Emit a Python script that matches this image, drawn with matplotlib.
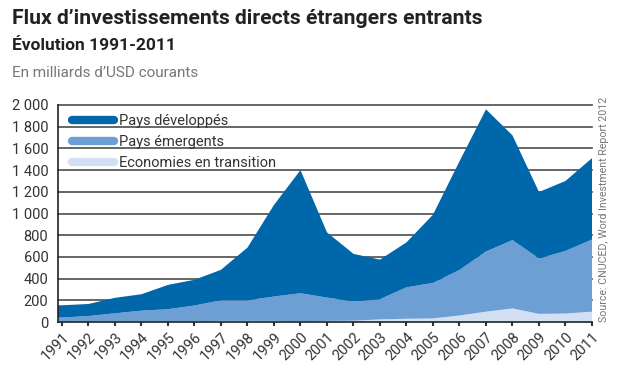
import numpy as np
import matplotlib.pyplot as plt
from matplotlib import font_manager

# Data (milliards d'USD courants)
years = list(range(1991, 2012))
developpes = [113, 111, 143, 151, 224, 237, 281, 486, 844, 1135, 601, 438, 365, 414, 629, 1001, 1310, 965, 613, 645, 750]
emergents = [40, 53, 77, 101, 113, 146, 190, 190, 225, 257, 215, 178, 186, 290, 327, 420, 555, 630, 510, 577, 665]
transition = [1, 2, 3, 4, 5, 6, 10, 10, 10, 8, 10, 12, 24, 30, 33, 60, 95, 125, 75, 78, 95]
series_labels = ['Pays développés', 'Pays émergents', 'Economies en transition']
colors = ['#0067ab', '#6d9fd5', '#d3dff3']
y_ticks = [0, 200, 400, 600, 800, 1000, 1200, 1400, 1600, 1800, 2000]

available = {f.name for f in font_manager.fontManager.ttflist}
narrow = 'Liberation Sans Narrow' if 'Liberation Sans Narrow' in available else 'Roboto'
plt.rcParams['font.family'] = [narrow, 'DejaVu Sans']

fig = plt.figure(figsize=(6.24, 3.71), dpi=100)
ax = fig.add_axes([58 / 624, 49 / 371, 534 / 624, 217 / 371])

# stretch the first value to the left edge, as in the original
xmin = years[0] - 0.15
x = np.r_[xmin, years]
layers = [np.r_[s[0], s] for s in (transition, emergents, developpes)]
ax.stackplot(x, *layers, colors=colors[::-1], linewidth=0, zorder=2)

ax.set_xlim(xmin, years[-1])
ax.set_ylim(0, 2000)
ax.set_yticks(y_ticks)
ax.set_yticklabels([f'{v:,}'.replace(',', ' ') for v in y_ticks],
                   fontsize=10.5, color='#333333')
for v in y_ticks[1:]:
    ax.axhline(v, color='#4d4d4d', lw=1.2, zorder=1, clip_on=False)

ax.set_xticks(years)
ax.set_xticklabels([str(y) for y in years], rotation=45, ha='right',
                   rotation_mode='anchor', fontsize=10.5, color='#333333')
ax.tick_params(axis='x', length=3, width=1.5, color='#333333', pad=3)
ax.tick_params(axis='y', length=0, pad=7)

for side in ['top', 'right']:
    ax.spines[side].set_visible(False)
for side in ['left', 'bottom']:
    ax.spines[side].set_color('#222222')
    ax.spines[side].set_linewidth(1.2)

handles = [plt.Line2D([], [], color=c, lw=6, solid_capstyle='round') for c in colors]
leg = ax.legend(handles, series_labels, loc='upper left', frameon=False,
                fontsize=10.5, handlelength=2.9, handletextpad=0.3,
                labelspacing=0.5, bbox_to_anchor=(0.01, 1.0), borderaxespad=0.2)
for t in leg.get_texts():
    t.set_color('#333333')

fig.text(12 / 624, 1 - 18 / 371, "Flux d\u2019investissements directs étrangers entrants",
         fontsize=15.2, fontweight='bold', color='#222222', va='center')
fig.text(12 / 624, 1 - 46 / 371, "Évolution 1991-2011",
         fontsize=12.5, fontweight='bold', color='#222222', va='center')
fig.text(12 / 624, 1 - 73 / 371, "En milliards d\u2019USD courants",
         fontsize=11, color='#777777', va='center')
fig.text(604 / 624, 1 - 322 / 371, "Source: CNUCED, Word Investment Report 2012",
         fontsize=7.7, color='#777777', rotation=90, ha='center', va='bottom')

fig.savefig('out.png', dpi=100)
